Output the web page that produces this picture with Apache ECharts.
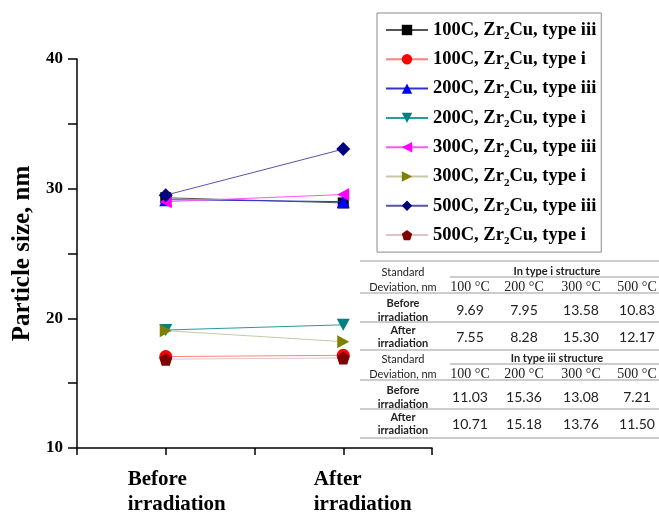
<!DOCTYPE html>
<html>
<head>
<meta charset="utf-8">
<script src="https://cdn.jsdelivr.net/npm/echarts@6/dist/echarts.min.js"></script>
<style>html,body{margin:0;padding:0;background:#fff}#c{width:659px;height:515px}</style>
</head>
<body>
<div id="c"></div>
<script>
// ---- data ----
var categories = ['Before\nirradiation', 'After\nirradiation'];
var seriesNames = [
  '100C, Zr2Cu, type iii', '100C, Zr2Cu, type i',
  '200C, Zr2Cu, type iii', '200C, Zr2Cu, type i',
  '300C, Zr2Cu, type iii', '300C, Zr2Cu, type i',
  '500C, Zr2Cu, type iii', '500C, Zr2Cu, type i'
];
var s100iii = [29.3, 28.9];
var s100i   = [17.05, 17.15];
var s200iii = [29.15, 29.0];
var s200i   = [19.1, 19.5];
var s300iii = [29.0, 29.55];
var s300i   = [19.05, 18.2];
var s500iii = [29.5, 33.05];
var s500i   = [16.85, 16.95];
var yTicks = [10, 20, 30, 40];

var tableTemps = ['100 °C', '200 °C', '300 °C', '500 °C'];
var typeIBefore = [9.69, 7.95, 13.58, 10.83];
var typeIAfter = [7.55, 8.28, 15.30, 12.17];
var typeIIIBefore = [11.03, 15.36, 13.08, 7.21];
var typeIIIAfter = [10.71, 15.18, 13.76, 11.50];

// ---- styles ----
var seriesValues = [s100iii, s100i, s200iii, s200i, s300iii, s300i, s500iii, s500i];
var colors = ['#000000', '#ff0000', '#0000ff', '#008080', '#ff00ff', '#808000', '#000080', '#800000'];
var lineColors = ['#555555', '#ff8080', '#3333cc', '#2a9a9a', '#ff55ff', '#c8c8a8', '#5555aa', '#e0c4c4'];
var symbols = ['rect', 'circle', 'triangle',
  'path://M0,0 L10,0 L5,9 Z',
  'path://M0,5 L9,0 L9,10 Z',
  'path://M0,0 L9,5 L0,10 Z',
  'diamond',
  'path://M5,0 L9.76,3.45 L7.94,9.05 L2.06,9.05 L0.24,3.45 Z'];
var sizes = [11, 13, 13, [13, 12], [12, 13], [12, 13], 14, 13];
var labelPad = [22, 39];

var series = seriesNames.map(function (n, i) {
  return {
    name: n, type: 'line',
    data: seriesValues[i].map(function (v, k) { return [k + 1, v]; }),
    symbol: symbols[i], symbolSize: sizes[i], showSymbol: true,
    itemStyle: { color: colors[i] },
    lineStyle: { color: lineColors[i], width: 1 },
    emphasis: { disabled: true },
    z: 3 + i
  };
});

var graphics = [];
var tl = 360, tr = 659;
function hline(y, x1) { graphics.push({ type: 'line', shape: { x1: x1, y1: y, x2: tr, y2: y }, style: { stroke: '#9a9a9a', lineWidth: 1 }, z: 20 }); }
function txt(x, y, t, font) { graphics.push({ type: 'text', x: x, y: y, style: { text: t, font: font, fill: '#222', align: 'center', verticalAlign: 'middle', textAlign: 'center', textVerticalAlign: 'middle' }, z: 21 }); }
var colX = [470, 524, 581, 637];
var fSmall = '11px Lato';
var fBoldSmall = 'bold 11px Lato';
var fSerif = '14px "Liberation Serif"';
var fVal = '14px Lato';
function block(top, title, before, after) {
  txt(403, top + 11, 'Standard', fSmall);
  txt(403, top + 26, 'Deviation, nm', fSmall);
  txt(557, top + 10, title, fBoldSmall);
  tableTemps.forEach(function (t, i) { txt(colX[i], top + 26, t, fSerif); });
  txt(403, top + 42, 'Before', fBoldSmall);
  txt(403, top + 56, 'irradiation', fBoldSmall);
  before.forEach(function (v, i) { txt(colX[i], top + 49, v.toFixed(2), fVal); });
  txt(403, top + 69, 'After', fBoldSmall);
  txt(403, top + 82, 'irradiation', fBoldSmall);
  after.forEach(function (v, i) { txt(colX[i], top + 76, v.toFixed(2), fVal); });
}
hline(261, tl); hline(277, 450); hline(293, tl); hline(322, tl);
hline(350, tl); hline(364, 450); hline(380, tl); hline(409, tl); hline(438, tl);
block(261, 'In type i structure', typeIBefore, typeIAfter);
block(348, 'In type iii structure', typeIIIBefore, typeIIIAfter);

var xRich = {};
labelPad.forEach(function (p, i) {
  xRich['a' + i] = { fontFamily: 'Liberation Serif', fontWeight: 'bold', fontSize: 21, lineHeight: 25, align: 'left', color: '#000', padding: [0, 0, 0, p] };
});

var chart = echarts.init(document.getElementById('c'), null, { renderer: 'canvas' });
chart.setOption({
  animation: false,
  backgroundColor: '#ffffff',
  grid: { left: 77, right: 227, top: 59, bottom: 63, containLabel: false },
  legend: {
    orient: 'vertical', left: 377, top: 13,
    padding: [5, 5, 5, 8], itemGap: 5.3,
    itemWidth: 42, itemHeight: 13,
    borderColor: '#8a8a8a', borderWidth: 1,
    data: seriesNames,
    formatter: function (n) { return n.replace('Zr2Cu', 'Zr{s|2}Cu'); },
    textStyle: {
      fontFamily: 'Liberation Serif', fontWeight: 'bold', fontSize: 18.5, color: '#000', lineHeight: 24,
      rich: { s: { fontFamily: 'Liberation Serif', fontWeight: 'bold', fontSize: 11, lineHeight: 11, verticalAlign: 'bottom', color: '#000' } }
    }
  },
  xAxis: {
    type: 'value', min: 0.5, max: 2.5, interval: 0.5,
    splitLine: { show: false },
    axisLine: { lineStyle: { color: '#000', width: 1.5 } },
    axisTick: { length: 7, lineStyle: { color: '#000', width: 1.5 } },
    axisLabel: {
      margin: 19, color: '#000', align: 'center',
      formatter: function (v) {
        if (Math.abs(v - Math.round(v)) > 1e-6) return '';
        var i = Math.round(v) - 1;
        var c = categories[i];
        if (!c) return '';
        return c.split('\n').map(function (s) { return '{a' + i + '|' + s + '}'; }).join('\n');
      },
      rich: xRich
    }
  },
  yAxis: {
    type: 'value', min: 10, max: 40, interval: 5,
    name: 'Particle size, nm', nameLocation: 'middle', nameGap: 40,
    nameTextStyle: { fontFamily: 'Liberation Serif', fontWeight: 'bold', fontSize: 25, color: '#000' },
    splitLine: { show: false },
    axisLine: { show: true, lineStyle: { color: '#000', width: 1.5 } },
    axisTick: { length: 9, lineStyle: { color: '#000', width: 1.5 } },
    axisLabel: {
      margin: 14, color: '#000', fontFamily: 'Liberation Serif', fontWeight: 'bold', fontSize: 17,
      formatter: function (v) { return yTicks.indexOf(v) >= 0 ? String(v) : ''; }
    }
  },
  graphic: graphics,
  series: series
});
</script>
</body>
</html>
